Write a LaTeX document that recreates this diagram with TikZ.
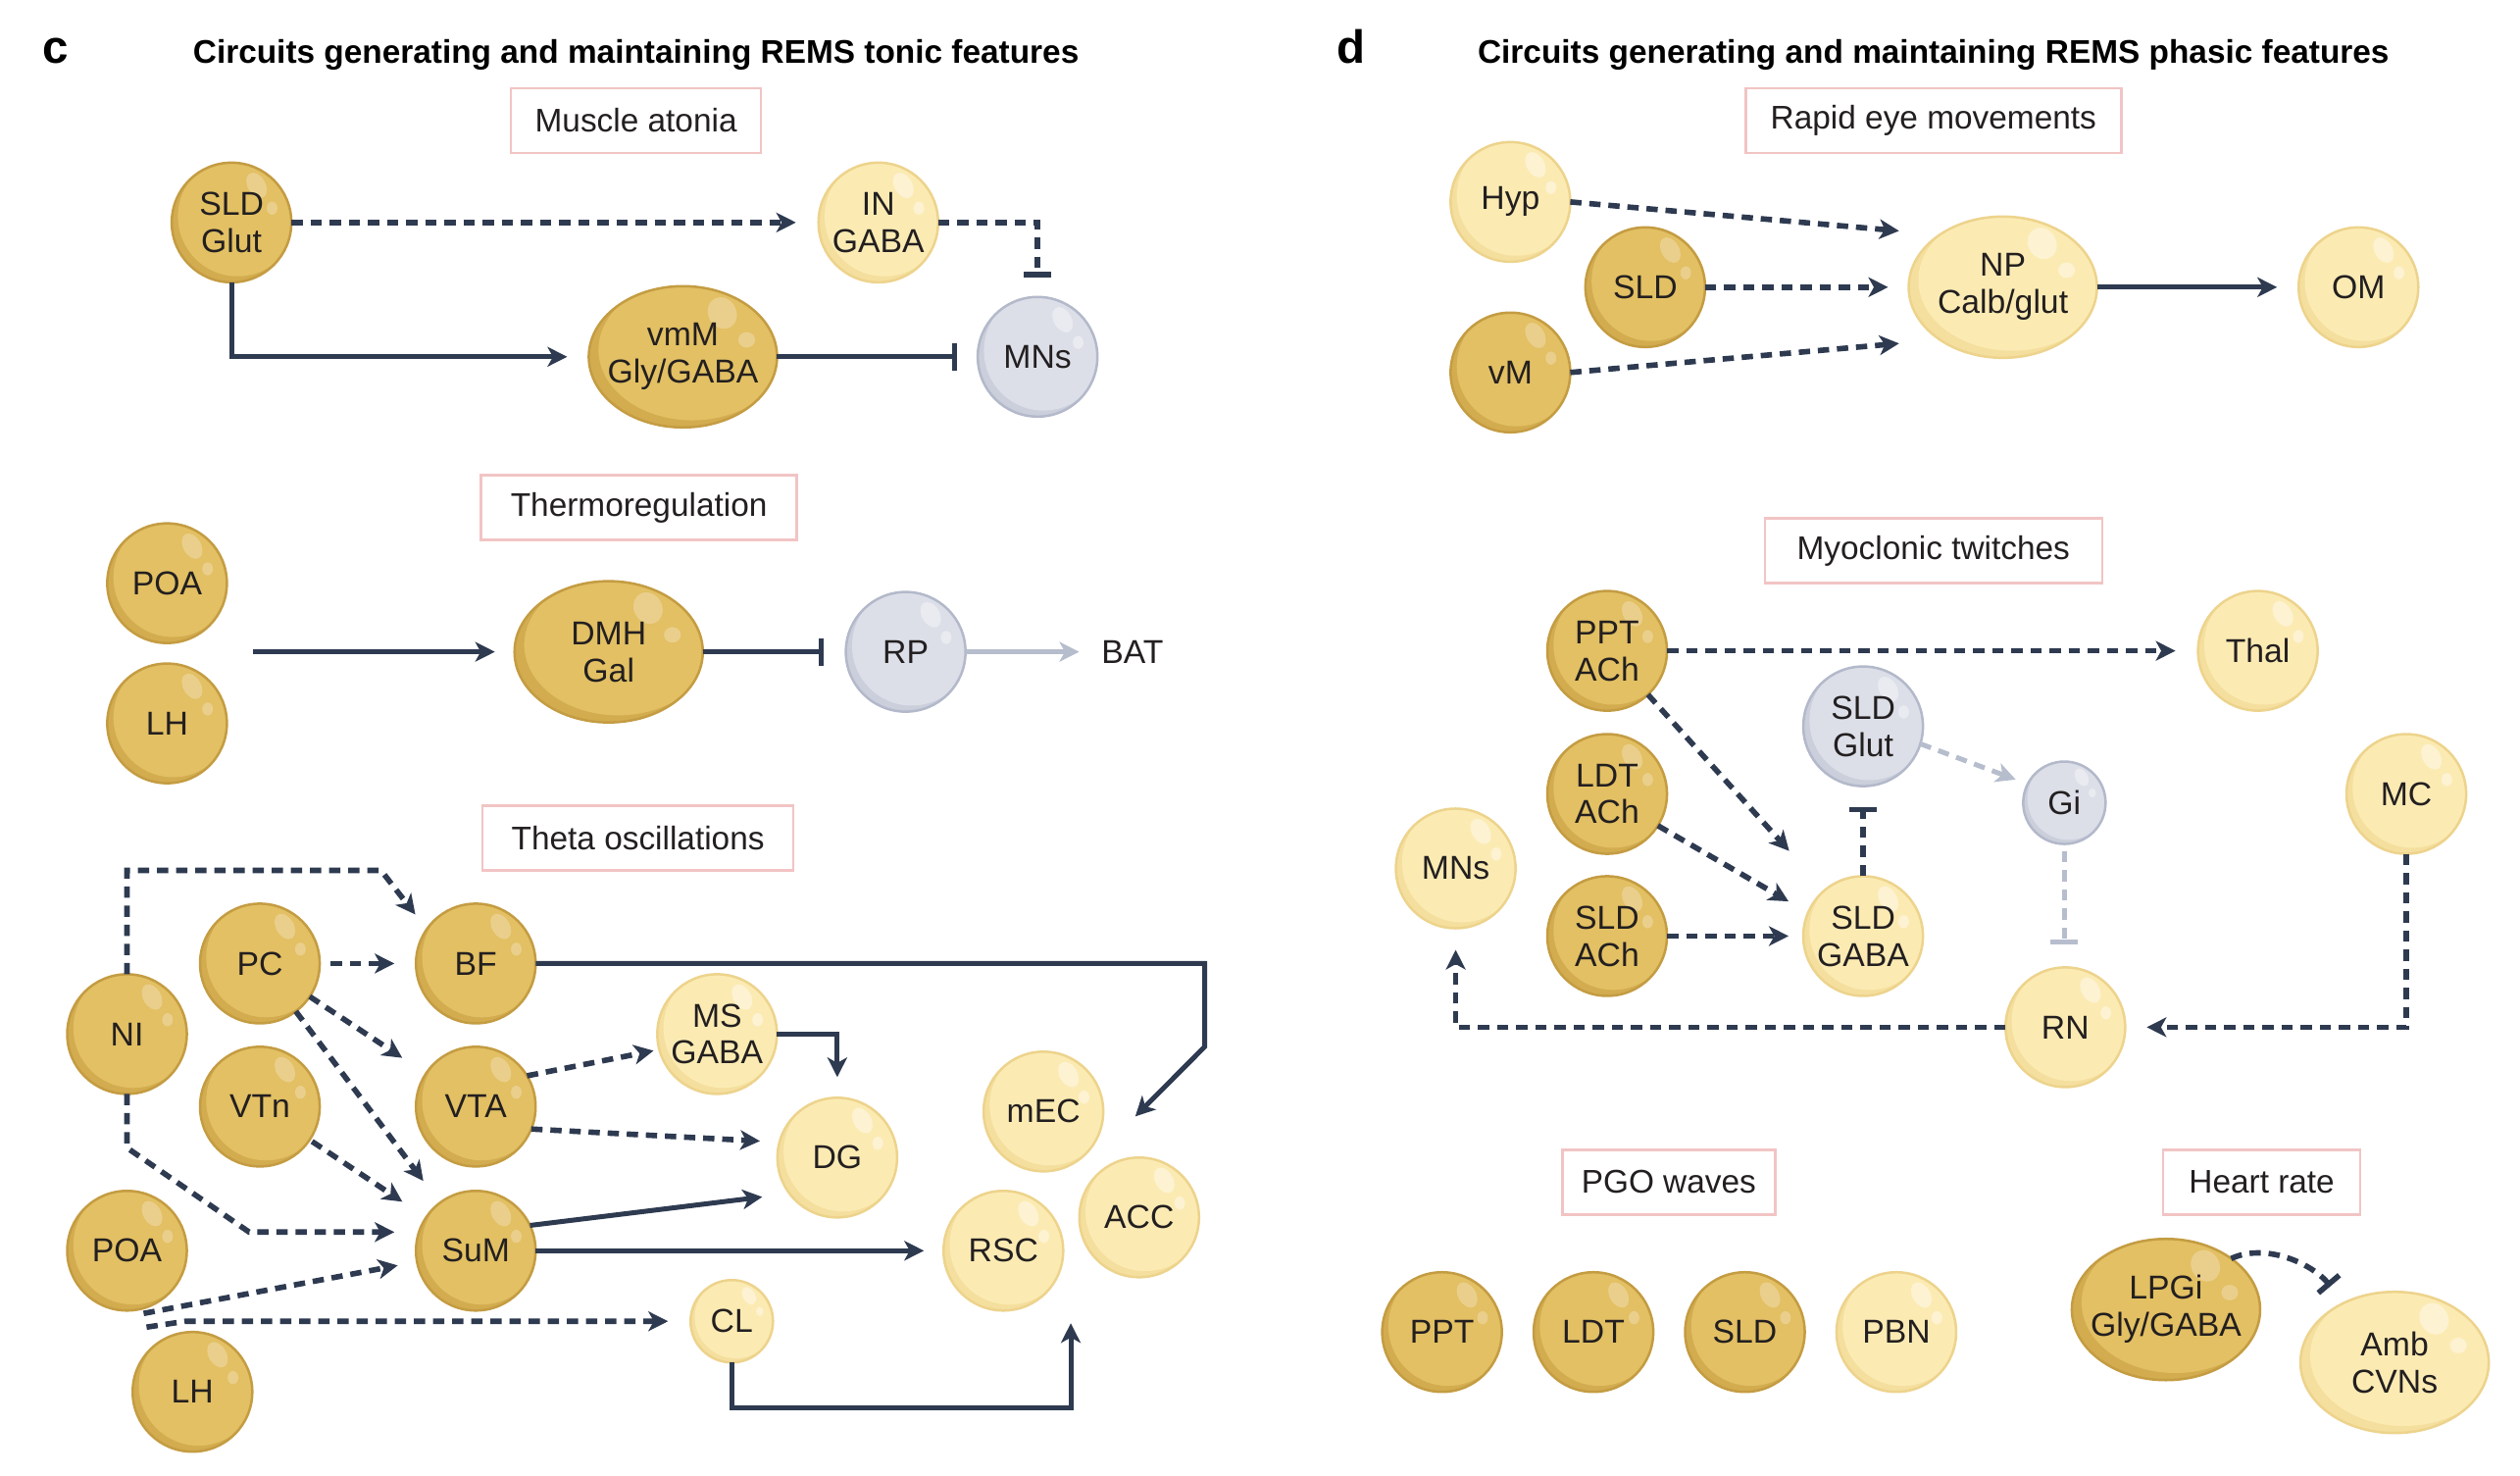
\documentclass[tikz,border=0pt]{standalone}
\usepackage{fontspec}
\setmainfont{Liberation Sans}
\usetikzlibrary{arrows.meta,shapes.geometric,calc}

\definecolor{navy}{HTML}{2E3A50}
\definecolor{greyline}{HTML}{B6BDCD}
\definecolor{boxpink}{HTML}{F2C4C4}
\definecolor{dksh}{HTML}{D3AC50}
\definecolor{dkfi}{HTML}{E2C063}
\definecolor{dkhl}{HTML}{EACF8C}
\definecolor{dkbd}{HTML}{C49C42}
\definecolor{ltsh}{HTML}{F5DF9E}
\definecolor{ltfi}{HTML}{FBEBB3}
\definecolor{lthl}{HTML}{FDF2D2}
\definecolor{ltbd}{HTML}{EDD38C}
\definecolor{gysh}{HTML}{CBCFDB}
\definecolor{gyfi}{HTML}{DCDFE8}
\definecolor{gyhl}{HTML}{E9EBF1}
\definecolor{gybd}{HTML}{B3B9CA}
\definecolor{txt}{HTML}{231F20}

\tikzset{
  cellshape/.style={ellipse, inner sep=0pt, outer sep=0pt, line width=0.025cm},
  celltext/.style={font=\fontsize{9.6}{10.8}\selectfont, text=txt, align=center, inner sep=0pt},
  link/.style={draw=navy, line width=0.05cm},
  dlink/.style={draw=navy, line width=0.056cm, dash pattern=on 0.115cm off 0.08cm},
  glink/.style={draw=greyline, line width=0.045cm},
  gdlink/.style={draw=greyline, line width=0.05cm, dash pattern=on 0.115cm off 0.08cm},
  toarr/.style={-{Stealth[length=0.2cm,width=0.2cm,inset=0.055cm]}},
  toinh/.style={-{Bar[width=0.28cm]}},
  featbox/.style={draw=boxpink, line width=0.025cm, fill=white, font=\fontsize{9.5}{11}\selectfont, text=txt, minimum height=0.66cm, inner sep=0pt},
  ttl/.style={font=\fontsize{9.5}{11}\selectfont\bfseries, text=black, inner sep=0pt, anchor=base},
  panel/.style={font=\fontsize{13.5}{15}\selectfont\bfseries, text=black, inner sep=0pt, anchor=base},
}

% #1 name, #2 x, #3 y, #4 rx, #5 ry, #6 colour prefix, #7 text
\newcommand\neuroncell[7]{%
  \begin{scope}
    \clip (#2,#3) ellipse [x radius=#4, y radius=#5];
    \fill[#6sh] (#2,#3) ellipse [x radius=#4, y radius=#5];
    \fill[#6fi] ({#2+0.10*#4},{#3-0.10*#5}) ellipse [x radius=#4, y radius=#5];
    \fill[#6hl, rotate around={30:({#2+0.42*#4},{#3-0.62*#5})}] ({#2+0.42*#4},{#3-0.62*#5}) ellipse [x radius={0.15*#4}, y radius={0.23*#5}];
    \fill[#6hl] ({#2+0.68*#4},{#3-0.24*#5}) ellipse [x radius={0.09*#4}, y radius={0.11*#5}];
  \end{scope}
  \node[cellshape, draw=#6bd, minimum width={0.02cm*#4}, minimum height={0.02cm*#5}] (#1) at (#2,#3) {};
  \node[celltext] (#1-t) at (#2,#3) {#7};
}

\begin{document}
\begin{tikzpicture}[x=0.00997cm, y=-0.01cm]
\useasboundingbox (0cm,0cm) rectangle (25.7cm,-15.04cm);
\fill[white] (0cm,0cm) rectangle (25.7cm,-15.04cm);

% ---------- titles ----------
\node[panel] (lc) at (57,65) {c};
\node[ttl] (tc) at (651,65) {Circuits generating and maintaining REMS tonic features};
\node[panel] (ld) at (1383,65) {d};
\node[ttl] (td) at (1979,65) {Circuits generating and maintaining REMS phasic features};

% ---------- feature boxes ----------
\node[featbox, minimum width=2.55cm] (bmus) at (651,123) {Muscle atonia};
\node[featbox, minimum width=3.22cm] (bthe) at (654,518) {Thermoregulation};
\node[featbox, minimum width=3.17cm] (btheta) at (653,855) {Theta oscillations};
\node[featbox, minimum width=3.83cm] (brem) at (1979,123) {Rapid eye movements};
\node[featbox, minimum width=3.44cm] (bmyo) at (1979,562) {Myoclonic twitches};
\node[featbox, minimum width=2.17cm] (bpgo) at (1708,1206) {PGO waves};
\node[featbox, minimum width=2.01cm] (bhr) at (2315,1206) {Heart rate};

% ---------- panel c: muscle atonia ----------
\neuroncell{sldglut}{237}{227}{61}{61}{dk}{SLD\\Glut}
\neuroncell{ingaba}{899}{227}{61}{61}{lt}{IN\\GABA}
\neuroncell{vmm}{699}{364}{96}{72}{dk}{vmM\\Gly/GABA}
\neuroncell{mnsc}{1062}{364}{61}{61}{gy}{MNs}

\draw[dlink,toarr,shorten >=0.23cm] (sldglut.east) -- (ingaba.west);
\draw[dlink,toinh,shorten >=0.20cm] (ingaba.east) -| (mnsc.north);
\draw[link,toarr,shorten >=0.22cm] (sldglut.south) |- (vmm.west);
\draw[link,toinh,shorten >=0.21cm] (vmm.east) -- (mnsc.west);

% ---------- thermoregulation ----------
\neuroncell{poac}{171}{595}{61}{61}{dk}{POA}
\neuroncell{lhc}{171}{738}{61}{61}{dk}{LH}
\neuroncell{dmh}{623}{665}{96}{72}{dk}{DMH\\Gal}
\neuroncell{rp}{927}{665}{61}{61}{gy}{RP}
\node[celltext] (bat) at (1159,665) {BAT};

\coordinate (thin) at (259,665);
\draw[link,toarr,shorten >=0.20cm] (thin) -- (dmh.west);
\draw[link,toinh,shorten >=0.23cm] (dmh.east) -- (rp.west);
\draw[glink,toarr,shorten >=0.22cm] (rp.east) -- (bat.west);

% ---------- theta oscillations ----------
\neuroncell{pc}{266}{983}{61}{61}{dk}{PC}
\neuroncell{bf}{487}{983}{61}{61}{dk}{BF}
\neuroncell{ni}{130}{1055}{61}{61}{dk}{NI}
\neuroncell{vtn}{266}{1129}{61}{61}{dk}{VTn}
\neuroncell{vta}{487}{1129}{61}{61}{dk}{VTA}
\neuroncell{poat}{130}{1276}{61}{61}{dk}{POA}
\neuroncell{sum}{487}{1276}{61}{61}{dk}{SuM}
\neuroncell{lht}{197}{1420}{61}{61}{dk}{LH}
\neuroncell{ms}{734}{1055}{61}{61}{lt}{MS\\GABA}
\neuroncell{dg}{857}{1181}{61}{61}{lt}{DG}
\neuroncell{mec}{1068}{1134}{61}{61}{lt}{mEC}
\neuroncell{acc}{1166}{1242}{61}{61}{lt}{ACC}
\neuroncell{rsc}{1027}{1276}{61}{61}{lt}{RSC}
\neuroncell{cl}{749}{1348}{42}{42}{lt}{CL}

\coordinate (nitop) at (390,888);
\draw[dlink,toarr,shorten >=0.19cm] (ni.north) |- (nitop) -- (bf.145);
\draw[dlink,toarr,shorten <=0.11cm,shorten >=0.22cm] (pc.east) -- (bf.west);
\draw[dlink,toarr,shorten >=0.29cm] (pc) -- (vta);
\draw[dlink,toarr,shorten >=0.28cm] (pc) -- (sum);
\draw[dlink,toarr,shorten <=0.03cm,shorten >=0.29cm] (vtn) -- (sum);
\coordinate (nib1) at (130,1171);
\coordinate (nib2) at (255,1257);
\draw[dlink,toarr,shorten >=0.22cm] (ni.south) -- (nib1) -- (nib2) -- (sum.west |- nib2);
\coordinate (lha) at (147,1340);
\coordinate (lhb) at (150,1354);
\coordinate (lhb2) at (190,1348);
\draw[dlink,toarr,shorten >=0.20cm] (lha) -- (sum);
\draw[dlink,toarr,shorten >=0.23cm] (lhb) -- (lhb2) -- (cl.west);
\coordinate (bfr) at (1233,1068);
\coordinate (mecin) at (1162,1139);
\draw[link,toarr] (bf.east) -| (bfr) -- (mecin);
\draw[dlink,toarr,shorten >=0.06cm] (vta.31) -- (ms.195);
\draw[dlink,toarr,shorten >=0.20cm] (vta.-22) -- (dg.165);
\draw[link,toarr,shorten >=0.21cm] (ms.east) -| (dg.north);
\draw[link,toarr,shorten >=0.28cm] (sum.25) -- (dg.217);
\draw[link,toarr,shorten >=0.20cm] (sum.east) -- (rsc.west);
\coordinate (clbr) at (1096,1436);
\coordinate (cltip) at (1096,1350);
\draw[link,toarr] (cl.south) |- (clbr) -- (cltip);

% ---------- panel d: rapid eye movements ----------
\neuroncell{hyp}{1546}{206}{61}{61}{lt}{Hyp}
\neuroncell{sldr}{1684}{293}{61}{61}{dk}{SLD}
\neuroncell{vm}{1546}{380}{61}{61}{dk}{vM}
\neuroncell{np}{2050}{293}{96}{72}{lt}{NP\\Calb/glut}
\neuroncell{om}{2414}{293}{61}{61}{lt}{OM}

\draw[dlink,toarr,shorten >=0.42cm] (hyp.east) -- (np.140);
\draw[dlink,toarr,shorten >=0.21cm] (sldr.east) -- (np.west);
\draw[dlink,toarr,shorten >=0.42cm] (vm.east) -- (np.220);
\draw[link,toarr,shorten >=0.22cm] (np.east) -- (om.west);

% ---------- myoclonic twitches ----------
\neuroncell{ppta}{1645}{664}{61}{61}{dk}{PPT\\ACh}
\neuroncell{thal}{2311}{664}{61}{61}{lt}{Thal}
\neuroncell{sldg}{1907}{741}{61}{61}{gy}{SLD\\Glut}
\neuroncell{ldta}{1645}{810}{61}{61}{dk}{LDT\\ACh}
\neuroncell{gi}{2113}{819}{42}{42}{gy}{Gi}
\neuroncell{mc}{2463}{810}{61}{61}{lt}{MC}
\neuroncell{mnsd}{1490}{886}{61}{61}{lt}{MNs}
\neuroncell{sldach}{1645}{955}{61}{61}{dk}{SLD\\ACh}
\neuroncell{sldgaba}{1907}{955}{61}{61}{lt}{SLD\\GABA}
\neuroncell{rn}{2114}{1048}{61}{61}{lt}{RN}

\draw[dlink,toarr,shorten >=0.23cm] (ppta.east) -- (thal.west);
\draw[dlink,toarr,shorten >=0.54cm] (ppta.-47) -- (sldgaba.130);
\draw[dlink,toarr,shorten >=0.23cm] (ldta.-32) -- (sldgaba.157);
\draw[dlink,toarr,shorten >=0.15cm] (sldach.east) -- (sldgaba.west);
\draw[dlink,toinh,shorten >=0.21cm] (sldgaba.north) -- (sldg.south);
\draw[gdlink,toarr,shorten >=0.13cm] (sldg.-17) -- (gi.153);
\draw[gdlink,toinh,shorten <=0.07cm,shorten >=0.23cm] (gi.south) -- (gi.south |- rn.north);
\draw[dlink,toarr,shorten >=0.22cm] (mc.south) |- (rn.east);
\draw[dlink,toarr,shorten >=0.22cm] (rn.west) -| (mnsd.south);

% ---------- PGO waves ----------
\neuroncell{pptp}{1476}{1359}{61}{61}{dk}{PPT}
\neuroncell{ldtp}{1631}{1359}{61}{61}{dk}{LDT}
\neuroncell{sldp}{1786}{1359}{61}{61}{dk}{SLD}
\neuroncell{pbn}{1941}{1359}{61}{61}{lt}{PBN}

% ---------- heart rate ----------
\neuroncell{lpgi}{2217}{1336}{96}{72}{dk}{LPGi\\Gly/GABA}
\neuroncell{amb}{2451}{1390}{96}{72}{lt}{Amb\\CVNs}

\draw[dlink,toinh,shorten >=0.22cm] (lpgi.38) .. controls (2318,1268) and (2365,1288) .. (amb.130);

\end{tikzpicture}
\end{document}
